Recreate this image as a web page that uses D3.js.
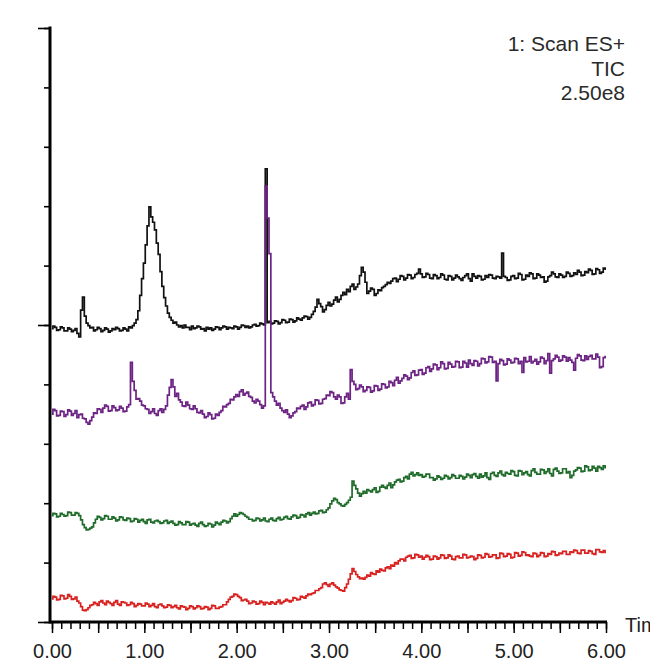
<!DOCTYPE html>
<html>
<head>
<meta charset="utf-8">
<script src="https://cdn.jsdelivr.net/npm/d3@7/dist/d3.min.js"></script>
<style>
  html, body { margin: 0; padding: 0; background: #ffffff; }
  svg { display: block; }
  text { font-family: "Liberation Sans", Arial, Helvetica, sans-serif; }
</style>
</head>
<body>
<svg id="chart" width="650" height="662"></svg>
<script>
// ---------------- DATA ----------------
// retention time sampling (min), 0.00 .. 6.00 every 0.02 min
const times = d3.range(0, 301).map(i => +(i * 0.02).toFixed(2));

// relative response (% of displayed full scale), stacked traces as drawn
const blackTrace = [
  49.4,49.8,49.6,49.1,49.2,49.7,49.5,49.0,49.0,49.5,
  49.3,48.9,49.1,49.4,48.6,48.0,52.5,54.7,51.5,50.3,
  49.9,49.5,49.6,49.0,49.2,49.6,49.4,48.9,49.1,49.5,
  49.3,48.8,49.0,49.4,49.2,49.6,49.4,49.0,49.1,49.5,
  49.3,49.0,49.7,49.5,49.9,50.3,50.9,52.4,55.0,57.8,
  60.4,63.5,66.7,69.9,68.2,67.3,66.0,63.8,61.9,59.0,
  56.5,54.6,53.2,52.0,51.3,50.8,50.3,50.5,50.0,49.7,
  49.9,49.5,50.0,49.6,49.6,49.2,49.8,49.4,49.5,49.8,
  49.7,49.3,49.4,49.0,49.6,49.3,49.5,49.1,49.3,49.7,
  49.6,49.2,49.5,49.8,49.7,49.3,49.6,49.5,49.4,49.8,
  49.7,49.3,49.6,50.0,49.9,49.6,49.8,49.5,49.7,50.0,
  50.1,49.8,49.9,50.3,50.2,50.0,76.3,50.4,50.6,50.2,
  50.3,50.7,50.6,50.2,50.4,50.9,50.8,50.4,50.5,51.0,
  50.9,50.5,50.7,51.2,51.0,50.8,51.2,51.5,51.4,51.0,
  51.3,51.8,52.3,53.0,54.3,53.6,53.1,52.2,52.6,53.3,
  53.8,53.2,53.5,54.2,54.7,53.9,54.3,55.0,55.5,55.1,
  56.0,55.6,56.5,56.9,56.0,56.4,56.9,58.3,59.7,58.9,
  57.2,55.3,55.7,56.2,56.0,55.0,55.3,55.9,55.8,56.3,
  56.5,56.8,57.2,57.0,57.4,57.8,57.9,57.3,57.7,58.3,
  58.2,57.6,57.9,58.5,58.4,57.8,58.0,58.5,58.7,59.4,
  58.6,58.0,58.1,58.7,58.5,57.9,57.8,58.5,58.3,57.8,
  58.0,58.6,58.4,57.7,57.6,58.3,58.2,57.6,57.9,58.4,
  58.1,57.8,57.5,58.0,58.3,58.6,57.8,57.4,58.6,58.2,
  57.9,58.3,58.2,57.6,57.7,58.3,58.0,58.5,58.4,57.9,
  57.8,58.2,58.1,57.9,62.1,58.2,58.0,57.5,57.6,58.2,
  58.3,57.8,57.9,58.7,58.5,57.6,57.7,58.4,58.2,58.8,
  58.6,57.8,57.9,58.6,58.4,58.0,58.1,57.2,57.4,58.1,
  58.3,58.9,58.6,58.1,58.0,58.6,58.4,58.0,58.2,58.9,
  58.7,58.2,58.3,58.8,58.5,59.2,58.9,58.3,58.4,59.0,
  58.8,59.4,59.2,58.5,58.6,59.5,59.3,58.7,58.9,59.6,
  59.4
];

const purpleTrace = [
  35.0,35.8,35.6,34.7,34.8,35.5,35.4,34.6,34.9,35.7,
  35.5,34.8,35.1,35.6,34.4,34.9,35.0,34.3,34.2,33.6,
  33.3,33.9,34.5,35.2,35.1,35.9,35.8,35.3,36.0,36.5,
  36.3,35.5,35.6,36.4,36.1,35.6,35.7,36.3,36.0,35.4,
  35.5,36.2,36.6,43.7,40.5,39.0,37.5,37.6,37.2,36.5,
  36.4,35.9,35.8,35.1,35.4,35.9,35.1,34.8,35.6,35.9,
  35.3,35.8,36.4,38.2,39.5,40.8,39.6,38.0,38.5,37.4,
  37.0,36.4,36.3,37.0,36.5,35.9,35.8,36.4,35.9,35.3,
  35.2,35.6,35.0,34.4,34.6,35.2,34.9,34.2,34.3,35.0,
  34.8,35.3,35.6,36.3,36.2,36.6,36.8,37.5,37.4,37.9,
  38.3,38.0,38.8,39.1,38.2,38.5,38.7,38.0,37.8,37.2,
  36.9,37.5,37.2,36.6,36.0,36.4,73.4,68.0,62.0,38.6,
  37.9,37.2,36.5,36.8,36.0,35.6,35.3,35.7,35.0,34.4,
  34.7,35.2,35.4,36.0,35.9,36.3,36.5,35.8,36.2,36.9,
  37.0,36.4,36.6,37.4,37.3,36.7,36.8,37.5,37.6,38.2,
  38.1,38.8,38.6,37.9,37.5,38.2,37.9,36.8,36.9,37.9,
  38.5,37.5,42.5,40.5,40.0,39.1,39.3,39.9,39.6,38.8,
  39.0,39.6,39.5,38.7,38.9,39.8,39.7,39.0,39.2,40.1,
  40.0,39.4,39.6,40.5,40.3,39.8,40.7,41.2,40.2,40.6,
  41.0,41.6,41.4,40.8,41.1,42.0,42.3,41.5,41.6,42.4,
  42.5,41.7,41.9,42.8,43.0,42.2,42.6,43.4,43.3,42.5,
  42.8,43.8,43.5,42.6,42.7,43.7,43.4,42.9,43.0,43.9,
  43.8,42.8,42.9,43.9,43.6,42.9,44.1,43.5,43.2,44.0,
  43.9,43.1,43.5,44.4,44.3,43.6,43.8,44.7,44.6,43.7,
  43.9,40.6,43.5,44.2,44.0,43.3,43.4,44.3,44.1,43.6,
  43.7,44.4,44.3,43.5,43.9,42.0,44.5,43.8,43.9,44.7,
  43.6,43.9,44.2,43.4,43.8,44.6,44.4,43.5,44.0,45.2,
  41.9,44.0,44.3,44.9,44.6,43.9,44.1,44.8,44.6,43.9,
  44.5,44.1,43.7,42.4,44.4,45.0,44.8,44.1,44.0,44.8,
  44.2,44.7,44.9,44.3,44.3,45.1,44.6,42.8,43.0,44.5,
  44.7
];

const greenTrace = [
  17.9,18.3,18.2,17.7,17.8,18.3,18.1,17.8,17.9,18.5,
  18.4,18.0,18.0,18.4,18.3,17.9,17.2,16.4,15.9,15.5,
  15.6,15.8,16.0,16.7,17.3,17.8,17.6,17.2,17.4,17.9,
  17.8,17.3,17.3,17.7,17.5,17.0,17.2,17.7,17.6,17.2,
  17.1,17.5,17.4,16.9,17.0,17.4,17.3,16.8,17.1,17.3,
  16.9,16.6,17.2,17.3,16.8,16.7,17.0,17.1,16.9,16.6,
  16.7,17.0,17.1,16.6,16.8,17.0,16.6,16.3,16.4,16.9,
  16.7,16.4,16.4,16.9,16.8,16.3,16.5,16.6,16.3,16.1,
  16.6,16.8,16.4,16.1,16.2,16.6,16.5,16.0,16.3,16.8,
  16.6,16.4,16.8,17.1,17.0,16.7,16.9,17.4,17.8,18.2,
  17.8,18.1,18.4,18.3,18.1,17.8,17.6,17.3,17.3,17.0,
  17.1,17.5,17.4,17.0,17.2,17.5,17.0,16.9,17.3,17.5,
  17.1,17.0,17.4,17.6,17.2,17.3,17.6,17.8,17.4,17.3,
  17.7,18.0,17.9,17.5,17.6,18.1,18.0,17.7,18.2,18.4,
  18.0,18.3,18.5,18.2,18.3,18.7,18.8,18.4,18.5,18.9,
  19.2,19.9,20.4,20.8,20.6,20.1,19.9,19.6,19.5,19.8,
  20.1,20.5,21.0,23.7,23.0,22.4,21.7,21.2,21.6,22.0,
  21.7,22.3,22.1,21.9,22.3,22.6,21.8,22.0,22.7,23.0,
  22.7,22.5,23.0,23.4,22.6,23.1,23.6,23.9,24.0,23.6,
  23.7,24.3,24.5,24.1,24.9,25.2,24.6,24.8,25.1,24.7,
  24.8,24.4,24.5,24.9,24.9,24.3,24.3,23.9,24.1,24.6,
  24.4,24.0,24.2,24.7,24.5,24.1,24.3,24.8,24.6,24.2,
  24.2,24.7,24.5,24.1,24.4,24.9,24.7,24.3,24.8,25.0,
  24.5,24.2,24.9,24.4,24.6,25.1,24.3,24.0,25.0,25.2,
  24.7,24.5,25.1,25.4,24.8,24.6,25.2,25.0,24.9,25.5,
  25.3,24.7,24.6,25.5,25.4,24.8,25.1,25.3,24.8,24.6,
  25.5,25.8,25.2,24.9,24.9,25.7,25.6,25.0,25.3,25.8,
  25.0,24.6,25.7,25.9,25.4,25.0,25.1,25.8,25.8,25.1,
  25.3,24.3,24.7,25.4,25.6,26.0,25.9,25.3,25.4,26.3,
  26.1,25.5,25.6,26.2,25.9,25.4,26.2,26.0,25.7,26.3,
  26.0
];

const redTrace = [
  3.9,4.3,4.2,3.7,3.8,4.5,4.4,3.9,4.0,4.6,
  4.3,3.8,3.9,4.2,3.5,3.2,2.6,2.0,1.9,2.1,
  2.4,2.8,2.9,3.3,3.1,2.8,3.4,3.6,3.2,2.9,
  3.5,3.3,3.1,2.8,3.3,3.6,3.0,2.8,3.4,3.3,
  3.2,2.8,2.9,3.3,3.1,2.6,2.8,3.1,3.0,2.7,
  2.7,3.2,3.0,2.6,2.8,3.1,2.6,2.4,2.9,3.0,
  2.7,2.4,2.5,2.9,2.8,2.4,2.6,2.8,2.4,2.2,
  2.7,2.6,2.5,2.1,2.3,2.7,2.6,2.2,2.4,2.7,
  2.6,2.2,2.3,2.6,2.5,2.1,2.3,2.8,2.7,2.3,
  2.3,2.5,2.6,2.9,2.9,3.4,3.8,4.2,4.3,4.7,
  4.6,4.3,4.1,3.6,3.7,3.8,3.5,3.1,3.2,3.5,
  3.4,3.0,3.1,3.5,3.3,2.9,3.3,3.2,3.0,3.4,
  3.2,3.0,3.4,3.7,3.1,3.3,3.5,3.8,3.6,3.4,
  3.6,4.1,4.0,3.7,3.8,4.3,4.2,4.0,4.4,4.7,
  4.6,4.8,4.9,5.3,5.3,5.6,5.8,6.4,6.6,6.3,
  6.0,6.4,6.6,6.2,5.9,5.7,5.4,5.3,5.2,5.8,
  6.4,7.2,8.1,9.0,8.5,8.0,7.6,7.3,7.4,7.2,
  7.5,7.9,7.7,8.3,8.1,8.0,8.6,8.4,8.9,8.7,
  8.6,9.1,9.3,9.0,9.6,9.4,10.0,9.8,10.3,10.6,
  10.6,10.3,10.9,11.1,11.2,10.7,10.8,11.4,11.3,10.9,
  11.1,10.6,10.9,11.2,11.0,10.5,10.6,11.1,11.0,10.6,
  10.8,11.3,11.2,10.7,10.8,11.3,11.1,10.6,10.5,11.0,
  11.1,10.8,10.8,11.4,11.3,10.8,10.9,11.1,11.0,10.5,
  10.7,11.3,11.2,10.8,10.9,11.5,11.4,10.9,11.0,11.3,
  11.3,10.7,10.8,11.6,11.5,11.0,11.1,11.5,11.4,10.8,
  10.9,11.7,11.6,11.1,11.2,11.8,11.7,11.2,11.3,11.1,
  11.0,11.6,11.5,11.0,11.2,11.7,11.6,11.0,11.1,11.5,
  11.4,11.9,11.8,11.2,11.3,11.6,11.5,11.9,11.9,11.4,
  11.4,11.8,11.7,12.1,12.0,11.6,11.5,12.1,12.1,11.6,
  11.6,12.0,11.9,11.5,11.4,12.2,12.2,11.8,11.7,12.0,
  11.7
];

const seriesNames = ["black", "purple", "green", "red"];
const seriesColors = ["#111111", "#6c2384", "#1f6b2a", "#d8201f"];
const seriesValues = [blackTrace, purpleTrace, greenTrace, redTrace];

const xTickLabels = ["0.00", "1.00", "2.00", "3.00", "4.00", "5.00", "6.00"];
const xTickValues = [0, 1, 2, 3, 4, 5, 6];
const headerLines = ["1: Scan ES+", "TIC", "2.50e8"];
const xAxisTitle = "Time";

// ---------------- DRAWING ----------------
const svg = d3.select("#chart");

const x = d3.scaleLinear().domain([0, 6]).range([52, 606]);
const y = d3.scaleLinear().domain([0, 100]).range([622, 28]);

// traces
const line = d3.line()
  .x(d => x(d[0]))
  .y(d => y(d[1]))
  .curve(d3.curveStep);

seriesValues.forEach((vals, k) => {
  const pts = times.map((t, i) => [t, vals[i]]);
  svg.append("path")
    .datum(pts)
    .attr("class", "trace " + seriesNames[k])
    .attr("fill", "none")
    .attr("stroke", seriesColors[k])
    .attr("stroke-width", 1.7)
    .attr("stroke-linejoin", "miter")
    .attr("d", line);
});

// Y axis: minor ticks every 10 %, major at 0/50/100
const yAxisMinor = d3.axisLeft(y)
  .tickValues(d3.range(0, 101, 10))
  .tickSize(6)
  .tickFormat("");
const yAxisMajor = d3.axisLeft(y)
  .tickValues([0, 50, 100])
  .tickSize(12)
  .tickFormat("");

const gy1 = svg.append("g").attr("transform", "translate(50,0)").call(yAxisMinor);
const gy2 = svg.append("g").attr("transform", "translate(50,0)").call(yAxisMajor);
[gy1, gy2].forEach(g => {
  g.select(".domain").remove();
  g.selectAll(".tick line").attr("stroke", "#000").attr("stroke-width", 1.6);
});

// X axis: minor ticks every 0.1, major every 0.5
const xAxisMinor = d3.axisBottom(x)
  .tickValues(d3.range(0, 61).map(i => i / 10))
  .tickSize(7)
  .tickFormat("");
const xAxisMajor = d3.axisBottom(x)
  .tickValues(d3.range(0, 13).map(i => i / 2))
  .tickSize(11)
  .tickFormat("");
const gx1 = svg.append("g").attr("transform", "translate(0,622)").call(xAxisMinor);
const gx2 = svg.append("g").attr("transform", "translate(0,622)").call(xAxisMajor);
[gx1, gx2].forEach(g => {
  g.select(".domain").remove();
  g.selectAll(".tick line").attr("stroke", "#000").attr("stroke-width", 1.5);
});

// tick labels
const xLab = d3.axisBottom(x)
  .tickValues(xTickValues)
  .tickSize(0)
  .tickFormat((d, i) => xTickLabels[i]);
const gx3 = svg.append("g").attr("transform", "translate(0,622)").call(xLab);
gx3.select(".domain").remove();
gx3.selectAll("text")
  .attr("font-family", "'Liberation Sans', Arial, sans-serif")
  .attr("font-size", 20)
  .attr("fill", "#222")
  .attr("dy", null)
  .attr("y", 36);

// axis lines
svg.append("line")
  .attr("x1", 50).attr("x2", 50)
  .attr("y1", y(100) - 1.5).attr("y2", y(0) + 1.5)
  .attr("stroke", "#000").attr("stroke-width", 3);
svg.append("line")
  .attr("x1", 50).attr("x2", x(6) + 1)
  .attr("y1", y(0)).attr("y2", y(0))
  .attr("stroke", "#000").attr("stroke-width", 3);

// x axis title (cut off at the right edge, as in the original)
svg.append("text")
  .attr("x", 625).attr("y", 632)
  .attr("font-size", 20)
  .attr("fill", "#222")
  .text(xAxisTitle);

// header text
svg.append("g").selectAll("text")
  .data(headerLines)
  .join("text")
  .attr("x", 625)
  .attr("y", (d, i) => 51 + i * 24.5)
  .attr("text-anchor", "end")
  .attr("font-size", 21)
  .attr("fill", "#2a2a2a")
  .text(d => d);
</script>
</body>
</html>
